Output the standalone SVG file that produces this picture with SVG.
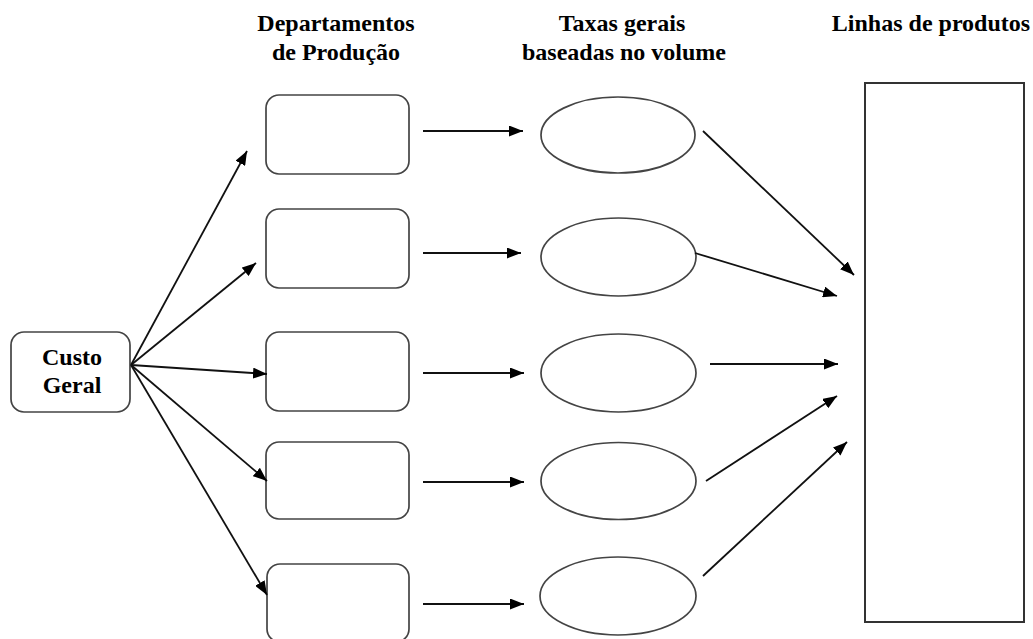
<svg xmlns="http://www.w3.org/2000/svg" width="1033" height="639" viewBox="0 0 1033 639">
  <style>
    .box { fill: #fff; stroke: #444; stroke-width: 1.7; }
    .oval { fill: #fff; stroke: #444; stroke-width: 1.7; }
    .bin { fill: #fff; stroke: #333; stroke-width: 2; }
    .lbl { font-family: "Liberation Serif", "Times New Roman", serif; font-weight: bold; font-size: 24px; fill: #000; text-anchor: middle; }
    .edge { stroke: #111; stroke-width: 1.8; fill: none; marker-end: url(#head); }
  </style>
  <defs>
    <marker id="head" viewBox="0 0 14 11" refX="14" refY="5.5" markerWidth="14" markerHeight="11" markerUnits="userSpaceOnUse" orient="auto">
      <path d="M0,0 L14,5.5 L0,11 Z" fill="#000"/>
    </marker>
  </defs>

  <rect width="1033" height="639" fill="#fff"/>

  <!-- column headings -->
  <g id="headings">
    <text class="lbl" x="336" y="31">Departamentos</text>
    <text class="lbl" x="336" y="60">de Produção</text>
    <text class="lbl" x="622" y="31">Taxas gerais</text>
    <text class="lbl" x="624" y="60">baseadas no volume</text>
    <text class="lbl" x="931" y="31">Linhas de produtos</text>
  </g>

  <!-- source node -->
  <g id="custo-geral">
    <rect class="box" x="11" y="332" width="119" height="80" rx="13"/>
    <text class="lbl" x="72" y="365">Custo</text>
    <text class="lbl" x="72" y="393">Geral</text>
  </g>

  <!-- production departments -->
  <g id="dept-1"><rect class="box" x="266" y="95" width="143" height="79" rx="13"/></g>
  <g id="dept-2"><rect class="box" x="266" y="209" width="143" height="79" rx="13"/></g>
  <g id="dept-3"><rect class="box" x="266" y="332" width="143" height="79" rx="13"/></g>
  <g id="dept-4"><rect class="box" x="266" y="442" width="143" height="77" rx="13"/></g>
  <g id="dept-5"><rect class="box" x="267" y="564" width="142" height="78" rx="13"/></g>

  <!-- volume-based overhead rates -->
  <g id="rate-1"><ellipse class="oval" cx="618" cy="135" rx="77" ry="38"/></g>
  <g id="rate-2"><ellipse class="oval" cx="618.5" cy="257" rx="77.5" ry="39"/></g>
  <g id="rate-3"><ellipse class="oval" cx="618.5" cy="373" rx="77.5" ry="39"/></g>
  <g id="rate-4"><ellipse class="oval" cx="618.5" cy="481" rx="77.5" ry="38.5"/></g>
  <g id="rate-5"><ellipse class="oval" cx="618" cy="596" rx="78" ry="39"/></g>

  <!-- product lines -->
  <g id="product-lines"><rect class="bin" x="865" y="83" width="159" height="539"/></g>

  <!-- connectors -->
  <g id="connectors">
    <line class="edge" x1="131" y1="365" x2="247" y2="151"/>
    <line class="edge" x1="131" y1="365" x2="256" y2="263"/>
    <line class="edge" x1="131" y1="365" x2="267" y2="374"/>
    <line class="edge" x1="131" y1="365" x2="267" y2="481"/>
    <line class="edge" x1="131" y1="365" x2="267" y2="595"/>

    <line class="edge" x1="423" y1="131" x2="523" y2="131"/>
    <line class="edge" x1="423" y1="253" x2="521" y2="253"/>
    <line class="edge" x1="423" y1="373" x2="524" y2="373"/>
    <line class="edge" x1="423" y1="482" x2="524" y2="482"/>
    <line class="edge" x1="423" y1="604" x2="524" y2="604"/>

    <line class="edge" x1="703" y1="131" x2="854" y2="275"/>
    <line class="edge" x1="695" y1="253" x2="837" y2="296"/>
    <line class="edge" x1="710" y1="364" x2="838" y2="364"/>
    <line class="edge" x1="706" y1="481" x2="837" y2="396"/>
    <line class="edge" x1="703" y1="576" x2="847" y2="442"/>
  </g>
</svg>
